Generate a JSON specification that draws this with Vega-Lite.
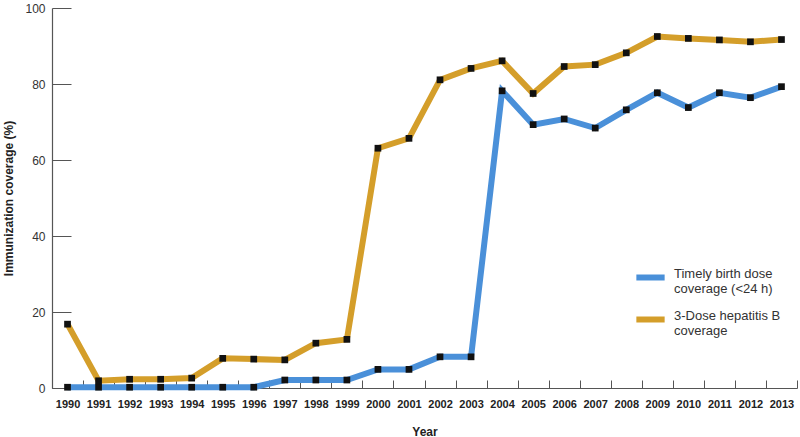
{
  "$schema": "https://vega.github.io/schema/vega-lite/v6.json",
  "autosize": "none",
  "width": 745,
  "height": 380,
  "padding": {"left": 52, "top": 8, "right": 3, "bottom": 49},
  "background": "white",
  "config": {
    "view": {"stroke": null},
    "font": "Liberation Sans"
  },
  "data": {
    "values": [
      {"Year": "1990", "series": "Timely birth dose coverage (<24 h)", "value": 0.2},
      {"Year": "1991", "series": "Timely birth dose coverage (<24 h)", "value": 0.2},
      {"Year": "1992", "series": "Timely birth dose coverage (<24 h)", "value": 0.2},
      {"Year": "1993", "series": "Timely birth dose coverage (<24 h)", "value": 0.2},
      {"Year": "1994", "series": "Timely birth dose coverage (<24 h)", "value": 0.2},
      {"Year": "1995", "series": "Timely birth dose coverage (<24 h)", "value": 0.2},
      {"Year": "1996", "series": "Timely birth dose coverage (<24 h)", "value": 0.2},
      {"Year": "1997", "series": "Timely birth dose coverage (<24 h)", "value": 2.1},
      {"Year": "1998", "series": "Timely birth dose coverage (<24 h)", "value": 2.1},
      {"Year": "1999", "series": "Timely birth dose coverage (<24 h)", "value": 2.1},
      {"Year": "2000", "series": "Timely birth dose coverage (<24 h)", "value": 4.9},
      {"Year": "2001", "series": "Timely birth dose coverage (<24 h)", "value": 4.9},
      {"Year": "2002", "series": "Timely birth dose coverage (<24 h)", "value": 8.2},
      {"Year": "2003", "series": "Timely birth dose coverage (<24 h)", "value": 8.2},
      {"Year": "2004", "series": "Timely birth dose coverage (<24 h)", "value": 78.2},
      {"Year": "2005", "series": "Timely birth dose coverage (<24 h)", "value": 69.3},
      {"Year": "2006", "series": "Timely birth dose coverage (<24 h)", "value": 70.8},
      {"Year": "2007", "series": "Timely birth dose coverage (<24 h)", "value": 68.4},
      {"Year": "2008", "series": "Timely birth dose coverage (<24 h)", "value": 73.2},
      {"Year": "2009", "series": "Timely birth dose coverage (<24 h)", "value": 77.7},
      {"Year": "2010", "series": "Timely birth dose coverage (<24 h)", "value": 73.8},
      {"Year": "2011", "series": "Timely birth dose coverage (<24 h)", "value": 77.7},
      {"Year": "2012", "series": "Timely birth dose coverage (<24 h)", "value": 76.4},
      {"Year": "2013", "series": "Timely birth dose coverage (<24 h)", "value": 79.3},
      {"Year": "1990", "series": "3-Dose hepatitis B coverage", "value": 16.8},
      {"Year": "1991", "series": "3-Dose hepatitis B coverage", "value": 1.9},
      {"Year": "1992", "series": "3-Dose hepatitis B coverage", "value": 2.3},
      {"Year": "1993", "series": "3-Dose hepatitis B coverage", "value": 2.3},
      {"Year": "1994", "series": "3-Dose hepatitis B coverage", "value": 2.6},
      {"Year": "1995", "series": "3-Dose hepatitis B coverage", "value": 7.8},
      {"Year": "1996", "series": "3-Dose hepatitis B coverage", "value": 7.6},
      {"Year": "1997", "series": "3-Dose hepatitis B coverage", "value": 7.4},
      {"Year": "1998", "series": "3-Dose hepatitis B coverage", "value": 11.8},
      {"Year": "1999", "series": "3-Dose hepatitis B coverage", "value": 12.8},
      {"Year": "2000", "series": "3-Dose hepatitis B coverage", "value": 63.1},
      {"Year": "2001", "series": "3-Dose hepatitis B coverage", "value": 65.7},
      {"Year": "2002", "series": "3-Dose hepatitis B coverage", "value": 81.1},
      {"Year": "2003", "series": "3-Dose hepatitis B coverage", "value": 84.1},
      {"Year": "2004", "series": "3-Dose hepatitis B coverage", "value": 86.1},
      {"Year": "2005", "series": "3-Dose hepatitis B coverage", "value": 77.5},
      {"Year": "2006", "series": "3-Dose hepatitis B coverage", "value": 84.6},
      {"Year": "2007", "series": "3-Dose hepatitis B coverage", "value": 85.1},
      {"Year": "2008", "series": "3-Dose hepatitis B coverage", "value": 88.2},
      {"Year": "2009", "series": "3-Dose hepatitis B coverage", "value": 92.5},
      {"Year": "2010", "series": "3-Dose hepatitis B coverage", "value": 92.0},
      {"Year": "2011", "series": "3-Dose hepatitis B coverage", "value": 91.6},
      {"Year": "2012", "series": "3-Dose hepatitis B coverage", "value": 91.1},
      {"Year": "2013", "series": "3-Dose hepatitis B coverage", "value": 91.7}
    ]
  },
  "encoding": {
    "x": {
      "field": "Year",
      "type": "ordinal",
      "scale": {"type": "band", "paddingInner": 0, "paddingOuter": 0},
      "axis": {
        "title": "Year",
        "titleFont": "Liberation Sans",
        "titleFontSize": 12,
        "titleFontWeight": "bold",
        "titleColor": "#222",
        "titlePadding": 17,
        "labelAngle": 0,
        "labelFont": "Liberation Sans",
        "labelFontSize": 11,
        "labelFontWeight": "bold",
        "labelColor": "#222",
        "labelPadding": 18,
        "tickBand": "extent",
        "tickSize": -8,
        "tickColor": "#555",
        "domainColor": "#555",
        "domainWidth": 1.2,
        "grid": false
      }
    },
    "y": {
      "field": "value",
      "type": "quantitative",
      "scale": {"domain": [0, 100], "nice": false},
      "axis": {
        "title": "Immunization coverage (%)",
        "titleFont": "Liberation Sans",
        "titleFontSize": 12,
        "titleFontWeight": "bold",
        "titleColor": "#222",
        "titlePadding": 9,
        "values": [0, 20, 40, 60, 80, 100],
        "labelFont": "Liberation Sans",
        "labelFontSize": 12,
        "labelColor": "#333",
        "labelPadding": 26,
        "tickSize": -19,
        "tickColor": "#555",
        "domainColor": "#555",
        "domainWidth": 1.2,
        "grid": false
      }
    }
  },
  "layer": [
    {
      "mark": {"type": "line", "strokeWidth": 6, "strokeJoin": "miter"},
      "encoding": {
        "color": {
          "field": "series",
          "type": "nominal",
          "sort": ["Timely birth dose coverage (<24 h)", "3-Dose hepatitis B coverage"],
          "scale": {
            "domain": ["Timely birth dose coverage (<24 h)", "3-Dose hepatitis B coverage"],
            "range": ["#4a90d9", "#d49e2a"]
          },
          "legend": {
            "title": null,
            "orient": "none",
            "legendX": 581,
            "legendY": 252,
            "symbolType": "stroke",
            "symbolSize": 800,
            "symbolStrokeWidth": 6,
            "symbolOpacity": 1,
            "labelFont": "Liberation Sans",
            "labelFontSize": 13,
            "labelColor": "#333",
            "labelLimit": 300,
            "labelOffset": 6,
            "labelBaseline": "alphabetic",
            "rowPadding": 6,
            "labelExpr": "datum.value == 'Timely birth dose coverage (<24 h)' ? ['Timely birth dose', 'coverage (<24 h)'] : ['3-Dose hepatitis B', 'coverage']"
          }
        }
      }
    },
    {
      "mark": {"type": "point", "shape": "square", "filled": true, "size": 45, "color": "#111", "opacity": 1},
      "encoding": {
        "detail": {"field": "series", "type": "nominal"}
      }
    }
  ]
}
